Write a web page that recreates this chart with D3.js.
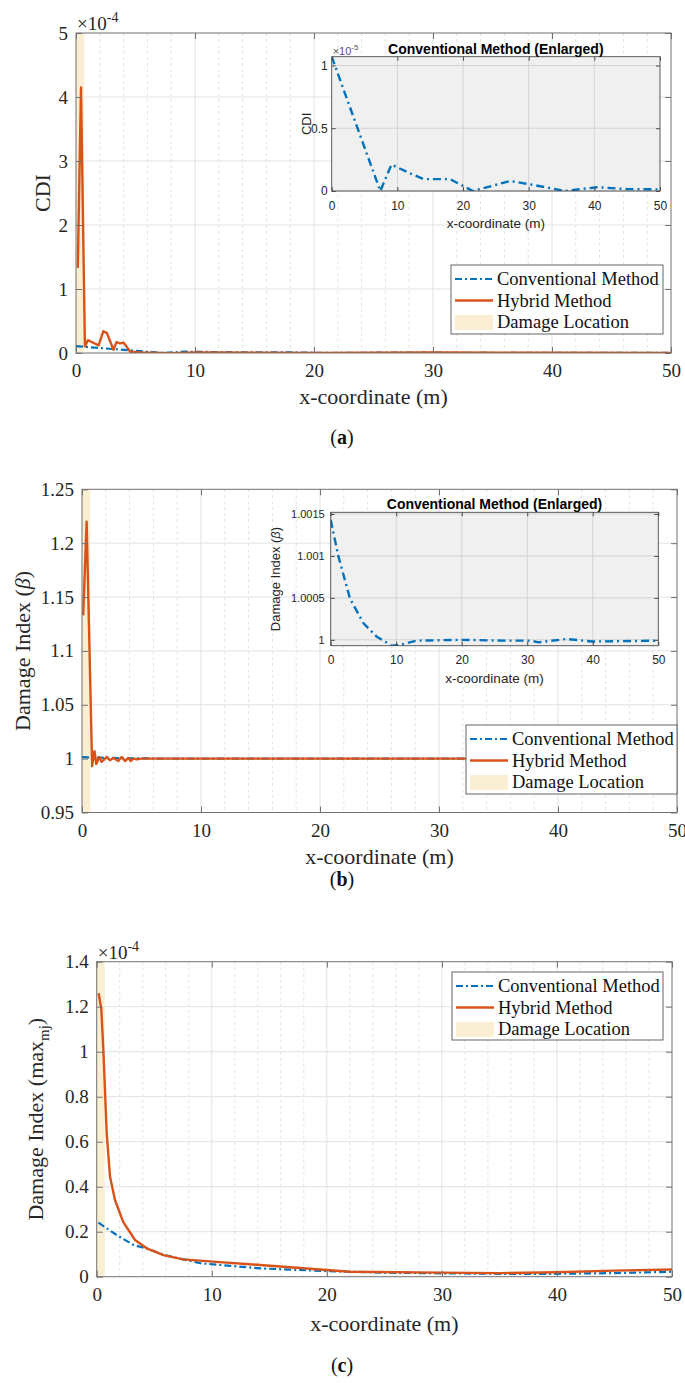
<!DOCTYPE html>
<html>
<head>
<meta charset="utf-8">
<script src="https://cdn.jsdelivr.net/npm/d3@7"></script>
<style>
  body { margin: 0; background: #fff; }
  svg { display: block; }
</style>
</head>
<body>
<div id="chart"></div>
<script>
// ---- values ----
const xTicks = [0, 10, 20, 30, 40, 50]
const damageZone = [0, 0.7]

// (a) CDI. main axis in 1e-4, inset in 1e-5
const cdiConvX = [0, 3.8, 7.4, 9.1, 12, 14, 18, 21.5, 27.2, 30.2, 35.5, 40.4, 45, 50]
const cdiConvY = [1.07, 0.52, 0, 0.21, 0.14, 0.095, 0.095, 0, 0.08, 0.053, 0, 0.03, 0.015, 0.013]
const cdiHybX = [0.15, 0.42, 0.75, 1.0, 1.45, 1.9, 2.3, 2.6, 3.15, 3.4, 3.7, 4.0, 4.25, 4.55, 5.5, 8, 10, 20, 30, 40, 50]
const cdiHybY = [1.33, 4.15, 0.1, 0.2, 0.16, 0.12, 0.34, 0.31, 0.05, 0.17, 0.15, 0.16, 0.1, 0.02, 0.01, -0.005, 0.008, 0, 0.008, 0.004, 0]
const cdiTicks = [0, 1, 2, 3, 4, 5]
const cdiInsetTicks = [0, 0.5, 1]

// (b) beta
const betaConvX = [0, 1.16, 2.95, 4.98, 7.0, 9.3, 10.6, 13.1, 20, 26.6, 30.5, 31.7, 36, 40, 50]
const betaConvY = [1.00143, 1.0010, 1.00049, 1.0002, 1.00004, 0.99993, 0.99994, 0.99999, 1.0, 0.99999, 0.99999, 0.99997, 1.00001, 0.99998, 0.99999]
const betaHybX = [0.1, 0.39, 0.85, 1.05, 1.2, 1.45, 1.65, 2.07, 2.35, 2.63, 3.05, 3.33, 3.61, 3.9, 4.09, 4.31, 4.6, 5, 10, 20, 30, 40, 50]
const betaHybY = [1.133, 1.22, 0.993, 1.007, 0.995, 1.0015, 0.997, 1.0015, 0.9985, 1.0006, 0.9978, 1.0016, 0.9978, 1.0006, 0.9978, 1.0, 0.9994, 1.0, 1, 1, 1, 1, 1]
const betaTicks = [0.95, 1, 1.05, 1.1, 1.15, 1.2, 1.25]
const betaInsetTicks = [1, 1.0005, 1.001, 1.0015]

// (c) max_mj, in 1e-4
const mjConvX = [0.15, 1.74, 3.2, 4.35, 6, 9, 14.2, 20, 25, 30, 35, 40, 45, 50]
const mjConvY = [0.24, 0.185, 0.141, 0.125, 0.095, 0.06, 0.037, 0.025, 0.018, 0.015, 0.013, 0.013, 0.016, 0.022]
const mjHybX = [0.17, 0.4, 0.58, 0.87, 1.16, 1.59, 2.3, 3.33, 4.35, 5.8, 7.5, 10.1, 14.2, 20, 22, 30, 35, 40, 45, 50]
const mjHybY = [1.26, 1.19, 1.007, 0.637, 0.444, 0.341, 0.244, 0.163, 0.126, 0.096, 0.077, 0.067, 0.052, 0.03, 0.022, 0.018, 0.016, 0.02, 0.027, 0.032]
const mjTicks = [0, 0.2, 0.4, 0.6, 0.8, 1, 1.2, 1.4]

const legendNames = ['Conventional Method', 'Hybrid Method', 'Damage Location']

// ---- drawing ----
const W = 685, H = 1383
const serif = '"Liberation Serif", "Times New Roman", serif'
const sans = '"Liberation Sans", Arial, sans-serif'
const blue = '#0072bd', orange = '#d95319', beige = '#fbefd3'
const dash = '7,3,2,3'
const minorX = d3.range(2, 50, 2).filter(v => v % 10 !== 0)
const fmt = d => String(+d.toFixed(4))
let clipCount = 0

const svg = d3.select('#chart').append('svg')
  .attr('width', W)
  .attr('height', H)

function pairs(xs, ys, k) {
  return xs.map((v, i) => [v, ys[i] * (k || 1)])
}

function styleAxis(sel, font, size, color) {
  sel.select('.domain').remove()
  sel.selectAll('line').attr('stroke', color)
  sel.selectAll('text')
    .attr('fill', '#262626')
    .style('font-family', font)
    .style('font-size', size + 'px')
}

function addClip(p) {
  const id = 'clip' + (clipCount++)
  svg.append('clipPath').attr('id', id)
    .append('rect')
    .attr('x', p.left).attr('y', p.top)
    .attr('width', p.right - p.left).attr('height', p.bottom - p.top)
  return 'url(#' + id + ')'
}

function mainPanel(p) {
  const x = d3.scaleLinear().domain([0, 50]).range([p.left, p.right])
  const y = d3.scaleLinear().domain(p.yDomain).range([p.bottom, p.top])
  const g = svg.append('g')
  const clip = addClip(p)

  g.append('g').selectAll('line')
    .data(minorX)
    .enter().append('line')
    .attr('x1', d => x(d)).attr('x2', d => x(d))
    .attr('y1', p.top).attr('y2', p.bottom)
    .attr('stroke', '#e3e3e3')
    .attr('stroke-dasharray', '3,3')

  g.append('g').selectAll('line')
    .data(xTicks.slice(1, -1))
    .enter().append('line')
    .attr('x1', d => x(d)).attr('x2', d => x(d))
    .attr('y1', p.top).attr('y2', p.bottom)
    .attr('stroke', '#e2e2e2')

  g.append('g').selectAll('line')
    .data(p.yTicks.slice(1, -1))
    .enter().append('line')
    .attr('x1', p.left).attr('x2', p.right)
    .attr('y1', d => y(d)).attr('y2', d => y(d))
    .attr('stroke', '#e2e2e2')

  g.append('rect')
    .attr('x', x(damageZone[0]))
    .attr('width', x(damageZone[1]) - x(damageZone[0]))
    .attr('y', p.top)
    .attr('height', p.bottom - p.top)
    .attr('fill', beige)

  const line = d3.line().x(d => x(d[0])).y(d => y(d[1]))

  g.append('path')
    .datum(p.conv)
    .attr('d', line)
    .attr('fill', 'none')
    .attr('stroke', blue)
    .attr('stroke-width', 2.2)
    .attr('stroke-dasharray', dash)
    .attr('clip-path', clip)

  g.append('path')
    .datum(p.hyb)
    .attr('d', line)
    .attr('fill', 'none')
    .attr('stroke', orange)
    .attr('stroke-width', 2.4)
    .attr('stroke-linejoin', 'round')
    .attr('clip-path', clip)

  const axisColor = '#707070'
  g.append('g')
    .attr('transform', 'translate(0,' + p.bottom + ')')
    .call(d3.axisBottom(x).tickValues(xTicks).tickSizeInner(-6).tickSizeOuter(0).tickPadding(11).tickFormat(fmt))
    .call(s => styleAxis(s, serif, 19, axisColor))
  g.append('g')
    .attr('transform', 'translate(0,' + p.top + ')')
    .call(d3.axisTop(x).tickValues(xTicks).tickSizeInner(-6).tickSizeOuter(0).tickFormat(''))
    .call(s => styleAxis(s, serif, 19, axisColor))
  g.append('g')
    .attr('transform', 'translate(' + p.left + ',0)')
    .call(d3.axisLeft(y).tickValues(p.yTicks).tickSizeInner(-6).tickSizeOuter(0).tickPadding(8).tickFormat(fmt))
    .call(s => styleAxis(s, serif, 19, axisColor))
  g.append('g')
    .attr('transform', 'translate(' + p.right + ',0)')
    .call(d3.axisRight(y).tickValues(p.yTicks).tickSizeInner(-6).tickSizeOuter(0).tickFormat(''))
    .call(s => styleAxis(s, serif, 19, axisColor))

  g.append('rect')
    .attr('x', p.left).attr('y', p.top)
    .attr('width', p.right - p.left).attr('height', p.bottom - p.top)
    .attr('fill', 'none')
    .attr('stroke', axisColor)

  g.append('text')
    .attr('x', (p.left + p.right) / 2)
    .attr('y', p.xLabelY)
    .attr('text-anchor', 'middle')
    .style('font-family', serif).style('font-size', '22px')
    .attr('fill', '#262626')
    .text('x-coordinate (m)')

  const yl = g.append('text')
    .attr('transform', 'translate(' + p.yLabelX + ',' + (p.top + p.bottom) / 2 + ') rotate(-90)')
    .attr('text-anchor', 'middle')
    .style('font-family', serif).style('font-size', '22px')
    .attr('fill', '#262626')
  p.yLabel(yl)

  if (p.exponent) {
    const e = g.append('text')
      .attr('x', p.left + 1)
      .attr('y', p.top - 3)
      .style('font-family', serif).style('font-size', '19px')
      .attr('fill', '#262626')
    e.append('tspan').text('\u00d710')
    e.append('tspan').attr('dy', -8).style('font-size', '14px').text(p.exponent)
  }

  legend(p.legend)

  svg.append('text')
    .attr('x', 342)
    .attr('y', p.tagY)
    .attr('text-anchor', 'middle')
    .style('font-family', serif).style('font-size', '20px')
    .attr('fill', '#111')
    .call(t => {
      t.append('tspan').text('(')
      t.append('tspan').style('font-weight', 'bold').text(p.tag)
      t.append('tspan').text(')')
    })
}

function legend(L) {
  const g = svg.append('g')
  g.append('rect')
    .attr('x', L.x).attr('y', L.y)
    .attr('width', L.w).attr('height', L.h)
    .attr('fill', '#fff')
    .attr('stroke', '#555')
    .attr('stroke-width', 0.9)
  const rows = legendNames.map((name, i) => ({ name: name, cy: L.y + 14 + i * 21.5 }))
  g.append('line')
    .attr('x1', L.x + 4).attr('x2', L.x + 42)
    .attr('y1', rows[0].cy).attr('y2', rows[0].cy)
    .attr('stroke', blue).attr('stroke-width', 2.2).attr('stroke-dasharray', dash)
  g.append('line')
    .attr('x1', L.x + 4).attr('x2', L.x + 42)
    .attr('y1', rows[1].cy).attr('y2', rows[1].cy)
    .attr('stroke', orange).attr('stroke-width', 2.4)
  g.append('rect')
    .attr('x', L.x + 4).attr('y', rows[2].cy - 7)
    .attr('width', 38).attr('height', 15)
    .attr('fill', beige)
  g.selectAll('text.leg')
    .data(rows)
    .enter().append('text')
    .attr('class', 'leg')
    .attr('x', L.x + 46)
    .attr('y', d => d.cy + 6)
    .style('font-family', serif).style('font-size', '18.5px')
    .attr('fill', '#111')
    .text(d => d.name)
}

function insetPanel(p) {
  const x = d3.scaleLinear().domain([0, 50]).range([p.left, p.right])
  const y = d3.scaleLinear().domain(p.yDomain).range([p.bottom, p.top])
  const g = svg.append('g')
  const clip = addClip(p)

  g.append('rect')
    .attr('x', p.left).attr('y', p.top)
    .attr('width', p.right - p.left).attr('height', p.bottom - p.top)
    .attr('fill', '#f0f0f0')

  g.append('g').selectAll('line')
    .data(xTicks.slice(1, -1))
    .enter().append('line')
    .attr('x1', d => x(d)).attr('x2', d => x(d))
    .attr('y1', p.top).attr('y2', p.bottom)
    .attr('stroke', '#d3d3d3')
  g.append('g').selectAll('line')
    .data(p.yTicks)
    .enter().append('line')
    .attr('x1', p.left).attr('x2', p.right)
    .attr('y1', d => y(d)).attr('y2', d => y(d))
    .attr('stroke', '#d3d3d3')

  const line = d3.line().x(d => x(d[0])).y(d => y(d[1]))
  g.append('path')
    .datum(p.conv)
    .attr('d', line)
    .attr('fill', 'none')
    .attr('stroke', blue)
    .attr('stroke-width', 2.4)
    .attr('stroke-dasharray', '8,4,2,4')
    .attr('clip-path', clip)

  const c = '#4a4a4a'
  g.append('g')
    .attr('transform', 'translate(0,' + p.bottom + ')')
    .call(d3.axisBottom(x).tickValues(xTicks).tickSizeInner(-4).tickSizeOuter(0).tickPadding(10).tickFormat(fmt))
    .call(s => styleAxis(s, sans, 12, c))
  g.append('g')
    .attr('transform', 'translate(0,' + p.top + ')')
    .call(d3.axisTop(x).tickValues(xTicks).tickSizeInner(-4).tickSizeOuter(0).tickFormat(''))
    .call(s => styleAxis(s, sans, 12, c))
  g.append('g')
    .attr('transform', 'translate(' + p.left + ',0)')
    .call(d3.axisLeft(y).tickValues(p.yTicks).tickSizeInner(-4).tickSizeOuter(0).tickPadding(p.tickPad).tickFormat(fmt))
    .call(s => styleAxis(s, sans, p.tickSize, c))
  g.append('g')
    .attr('transform', 'translate(' + p.right + ',0)')
    .call(d3.axisRight(y).tickValues(p.yTicks).tickSizeInner(-4).tickSizeOuter(0).tickFormat(''))
    .call(s => styleAxis(s, sans, 12, c))

  g.append('rect')
    .attr('x', p.left).attr('y', p.top)
    .attr('width', p.right - p.left).attr('height', p.bottom - p.top)
    .attr('fill', 'none')
    .attr('stroke', c)
    .attr('stroke-width', 0.9)

  g.append('text')
    .attr('x', (p.left + p.right) / 2)
    .attr('y', p.top - 3)
    .attr('text-anchor', 'middle')
    .style('font-family', sans).style('font-size', '14px').style('font-weight', 'bold')
    .attr('fill', '#000')
    .text('Conventional Method (Enlarged)')

  g.append('text')
    .attr('x', (p.left + p.right) / 2)
    .attr('y', p.bottom + 37)
    .attr('text-anchor', 'middle')
    .style('font-family', sans).style('font-size', '13.5px')
    .attr('fill', '#262626')
    .text('x-coordinate (m)')

  const yl = g.append('text')
    .attr('transform', 'translate(' + p.yLabelX + ',' + (p.top + p.bottom) / 2 + ') rotate(-90)')
    .attr('text-anchor', 'middle')
    .style('font-family', sans).style('font-size', '13px')
    .attr('fill', '#262626')
  p.yLabel(yl)

  if (p.exponent) {
    const e = g.append('text')
      .attr('x', p.left + 1)
      .attr('y', p.top - 2)
      .style('font-family', sans).style('font-size', '11px')
      .attr('fill', '#555')
    e.append('tspan').text('\u00d710')
    e.append('tspan').attr('dy', -5).style('font-size', '8px').text(p.exponent)
  }
}

// (a)
mainPanel({
  left: 76, right: 671, top: 33, bottom: 353,
  yDomain: [0, 5], yTicks: cdiTicks,
  conv: pairs(cdiConvX, cdiConvY, 0.1),
  hyb: pairs(cdiHybX, cdiHybY),
  xLabelY: 404, yLabelX: 50,
  yLabel: t => t.text('CDI'),
  exponent: '-4',
  legend: { x: 451, y: 265, w: 212, h: 69 },
  tag: 'a', tagY: 444
})
insetPanel({
  left: 331.7, right: 660, top: 56.7, bottom: 191,
  yDomain: [0, 1.07], yTicks: cdiInsetTicks, tickSize: 12, tickPad: 4,
  conv: pairs(cdiConvX, cdiConvY),
  yLabelX: 311,
  yLabel: t => t.text('CDI'),
  exponent: '-5'
})

// (b)
mainPanel({
  left: 82, right: 677, top: 489.3, bottom: 812.5,
  yDomain: [0.95, 1.25], yTicks: betaTicks,
  conv: pairs(betaConvX, betaConvY),
  hyb: pairs(betaHybX, betaHybY),
  xLabelY: 864, yLabelX: 30,
  yLabel: t => {
    t.append('tspan').text('Damage Index (')
    t.append('tspan').style('font-style', 'italic').text('\u03b2')
    t.append('tspan').text(')')
  },
  legend: { x: 466, y: 725, w: 211, h: 69 },
  tag: 'b', tagY: 886
})
insetPanel({
  left: 330.7, right: 658.3, top: 512.3, bottom: 645.7,
  yDomain: [0.99993, 1.00152], yTicks: betaInsetTicks, tickSize: 11, tickPad: 6,
  conv: pairs(betaConvX, betaConvY),
  yLabelX: 280,
  yLabel: t => {
    t.append('tspan').text('Damage Index (')
    t.append('tspan').style('font-style', 'italic').text('\u03b2')
    t.append('tspan').text(')')
  }
})

// (c)
mainPanel({
  left: 96.7, right: 672, top: 961.7, bottom: 1276.7,
  yDomain: [0, 1.4], yTicks: mjTicks,
  conv: pairs(mjConvX, mjConvY),
  hyb: pairs(mjHybX, mjHybY),
  xLabelY: 1331, yLabelX: 43,
  yLabel: t => {
    t.append('tspan').text('Damage Index (max')
    t.append('tspan').attr('dy', 6).style('font-size', '15px').text('mj')
    t.append('tspan').attr('dy', -6).text(')')
  },
  exponent: '-4',
  legend: { x: 452, y: 972, w: 211, h: 68 },
  tag: 'c', tagY: 1372
})
</script>
</body>
</html>
